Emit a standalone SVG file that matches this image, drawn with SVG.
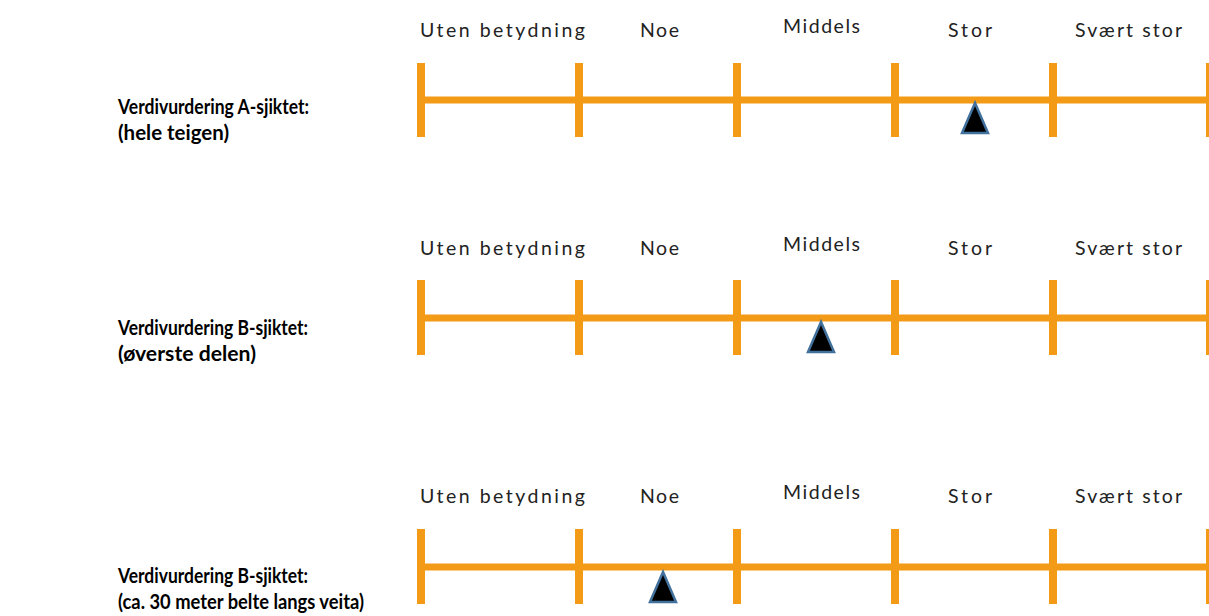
<svg xmlns="http://www.w3.org/2000/svg" width="1209" height="616" viewBox="0 0 1209 616">
<style>
.scale{font-family:Lato,"Liberation Sans",sans-serif;font-size:19.5px;fill:#222}
.lbl{font-family:Lato,"Liberation Sans",sans-serif;font-size:20px;font-weight:bold;fill:#000}
.bar{stroke:#F39A17;stroke-width:7;fill:none}
.tick{stroke:#F39A17;stroke-width:8;fill:none}
.mark{fill:#000;stroke:#41719C;stroke-width:2.5;stroke-linejoin:miter}
</style>
<rect width="1209" height="616" fill="#fff"/>

<g id="row1">
  <g id="row1-label">
    <text class="lbl" x="118" y="114" textLength="191" lengthAdjust="spacingAndGlyphs">Verdivurdering A-sjiktet:</text>
    <text class="lbl" x="118" y="140" textLength="111" lengthAdjust="spacingAndGlyphs">(hele teigen)</text>
  </g>
  <g id="row1-scale-labels">
    <text class="scale" x="420" y="37" textLength="165" lengthAdjust="spacing">Uten betydning</text>
    <text class="scale" x="640" y="37" textLength="39" lengthAdjust="spacing">Noe</text>
    <text class="scale" x="783" y="33" textLength="77" lengthAdjust="spacing">Middels</text>
    <text class="scale" x="948" y="37" textLength="44" lengthAdjust="spacing">Stor</text>
    <text class="scale" x="1075" y="37" textLength="107" lengthAdjust="spacing">Svært stor</text>
  </g>
  <g id="row1-scale">
    <line class="bar" x1="421" y1="100" x2="1209" y2="100"/>
    <line class="tick" x1="421" y1="63" x2="421" y2="137"/>
    <line class="tick" x1="579" y1="63" x2="579" y2="137"/>
    <line class="tick" x1="737" y1="63" x2="737" y2="137"/>
    <line class="tick" x1="895" y1="63" x2="895" y2="137"/>
    <line class="tick" x1="1053" y1="63" x2="1053" y2="137"/>
    <line class="tick" x1="1210" y1="63" x2="1210" y2="137"/>
  </g>
  <polygon id="row1-marker" class="mark" points="975,103 962,133 988,133"/>
</g>

<g id="row2">
  <g id="row2-label">
    <text class="lbl" x="118" y="335" textLength="190" lengthAdjust="spacingAndGlyphs">Verdivurdering B-sjiktet:</text>
    <text class="lbl" x="118" y="361" textLength="138" lengthAdjust="spacingAndGlyphs">(øverste delen)</text>
  </g>
  <g id="row2-scale-labels">
    <text class="scale" x="420" y="255" textLength="165" lengthAdjust="spacing">Uten betydning</text>
    <text class="scale" x="640" y="255" textLength="39" lengthAdjust="spacing">Noe</text>
    <text class="scale" x="783" y="251" textLength="77" lengthAdjust="spacing">Middels</text>
    <text class="scale" x="948" y="255" textLength="44" lengthAdjust="spacing">Stor</text>
    <text class="scale" x="1075" y="255" textLength="107" lengthAdjust="spacing">Svært stor</text>
  </g>
  <g id="row2-scale">
    <line class="bar" x1="421" y1="318" x2="1209" y2="318"/>
    <line class="tick" x1="421" y1="280" x2="421" y2="355"/>
    <line class="tick" x1="579" y1="280" x2="579" y2="355"/>
    <line class="tick" x1="737" y1="280" x2="737" y2="355"/>
    <line class="tick" x1="895" y1="280" x2="895" y2="355"/>
    <line class="tick" x1="1053" y1="280" x2="1053" y2="355"/>
    <line class="tick" x1="1210" y1="280" x2="1210" y2="355"/>
  </g>
  <polygon id="row2-marker" class="mark" points="821,322 808,352 834,352"/>
</g>

<g id="row3">
  <g id="row3-label">
    <text class="lbl" x="118" y="583" textLength="190" lengthAdjust="spacingAndGlyphs">Verdivurdering B-sjiktet:</text>
    <text class="lbl" x="118" y="609" textLength="246" lengthAdjust="spacingAndGlyphs">(ca. 30 meter belte langs veita)</text>
  </g>
  <g id="row3-scale-labels">
    <text class="scale" x="420" y="503" textLength="165" lengthAdjust="spacing">Uten betydning</text>
    <text class="scale" x="640" y="503" textLength="39" lengthAdjust="spacing">Noe</text>
    <text class="scale" x="783" y="499" textLength="77" lengthAdjust="spacing">Middels</text>
    <text class="scale" x="948" y="503" textLength="44" lengthAdjust="spacing">Stor</text>
    <text class="scale" x="1075" y="503" textLength="107" lengthAdjust="spacing">Svært stor</text>
  </g>
  <g id="row3-scale">
    <line class="bar" x1="421" y1="567" x2="1209" y2="567"/>
    <line class="tick" x1="421" y1="529" x2="421" y2="604"/>
    <line class="tick" x1="579" y1="529" x2="579" y2="604"/>
    <line class="tick" x1="737" y1="529" x2="737" y2="604"/>
    <line class="tick" x1="895" y1="529" x2="895" y2="604"/>
    <line class="tick" x1="1053" y1="529" x2="1053" y2="604"/>
    <line class="tick" x1="1210" y1="529" x2="1210" y2="604"/>
  </g>
  <polygon id="row3-marker" class="mark" points="663,572 650,602 676,602"/>
</g>
</svg>
